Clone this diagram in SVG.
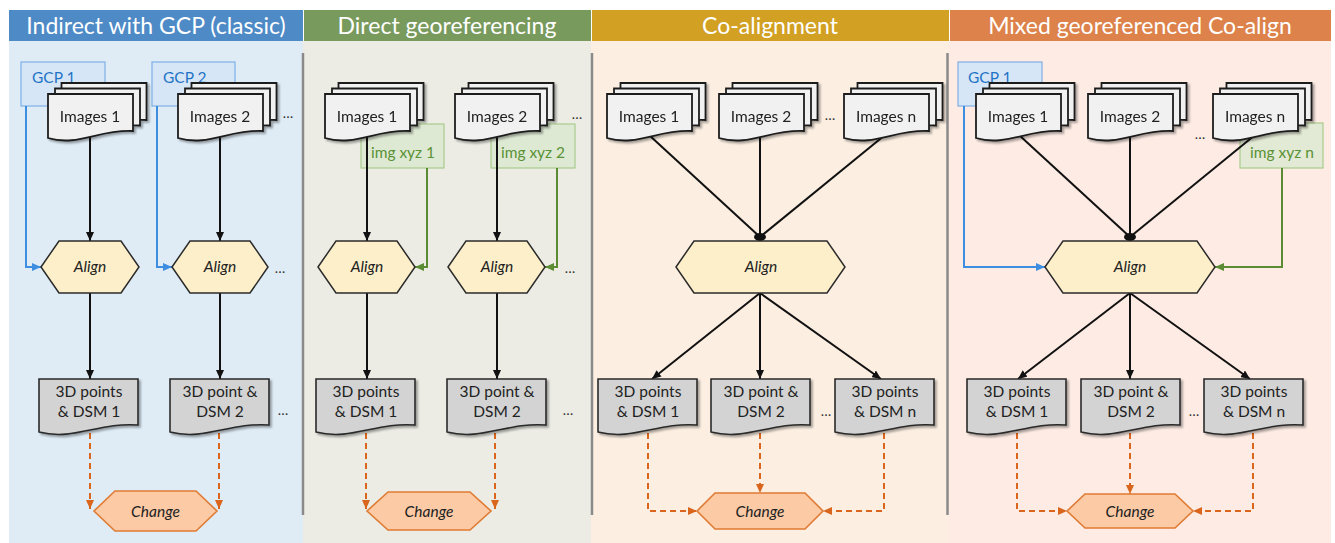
<svg xmlns="http://www.w3.org/2000/svg" width="1335" height="543" viewBox="0 0 1335 543">
<style>
  .hdr{font-family:Lato,"Open Sans",sans-serif;font-size:23px;fill:#ffffff;text-anchor:middle}
  .lbl{font-family:Lato,"Open Sans",sans-serif;font-size:15.5px;fill:#222;text-anchor:middle}
  .it{font-family:Lato,"Open Sans",sans-serif;font-size:15.5px;fill:#222;text-anchor:middle;font-style:italic}
  .gcpt{font-family:Lato,"Open Sans",sans-serif;font-size:15.5px;fill:#1f74c6}
  .xyzt{font-family:Lato,"Open Sans",sans-serif;font-size:15.5px;fill:#5a9236;text-anchor:middle}
  .dots{font-family:Lato,"Open Sans",sans-serif;font-size:14px;fill:#333;text-anchor:middle}
  .page{fill:#f1f1f1;stroke:#1e1e1e;stroke-width:1.8}
  .pts{fill:#d3d3d3;stroke:#2a2a2a;stroke-width:1.6}
  .align{fill:#fdefc9;stroke:#2b2b2b;stroke-width:1.5}
  .chg{fill:#fccaa5;stroke:#e07b33;stroke-width:1.6}
  .gcp{fill:#d7e6f7;stroke:#7eb0e6;stroke-width:1.2}
  .xyz{fill:#dbe8cf;fill-opacity:0.8;stroke:#a9cc8d;stroke-width:1.2}
  .blk{fill:none;stroke:#111;stroke-width:2}
  .blu{fill:none;stroke:#3d8ee0;stroke-width:2}
  .grn{fill:none;stroke:#5b8c34;stroke-width:2}
  .org{fill:none;stroke:#d9661c;stroke-width:2;stroke-dasharray:6 4}
  .sep{stroke:#8a8a8a;stroke-width:2.5}
</style>
<defs>
  <marker id="aBlk" markerUnits="userSpaceOnUse" markerWidth="9" markerHeight="8" refX="9" refY="4" orient="auto"><path d="M0,0 L9,4 L0,8 Z" fill="#111"/></marker>
  <marker id="aBlu" markerUnits="userSpaceOnUse" markerWidth="9" markerHeight="8" refX="9" refY="4" orient="auto"><path d="M0,0 L9,4 L0,8 Z" fill="#3d8ee0"/></marker>
  <marker id="aGrn" markerUnits="userSpaceOnUse" markerWidth="9" markerHeight="8" refX="9" refY="4" orient="auto"><path d="M0,0 L9,4 L0,8 Z" fill="#5b8c34"/></marker>
  <marker id="aOrg" markerUnits="userSpaceOnUse" markerWidth="9" markerHeight="8" refX="9" refY="4" orient="auto"><path d="M0,0 L9,4 L0,8 Z" fill="#d9661c"/></marker>
  <filter id="sh" x="-10%" y="-10%" width="130%" height="140%"><feDropShadow dx="2" dy="2" stdDeviation="1.3" flood-color="#000" flood-opacity="0.35"/></filter>
  <path id="doc" d="M0,0 H85 V37 C51,35 30,53 0,44 Z"/>
  <path id="pt" d="M0,0 H99 V46 C60,43 35,62 0,53 Z"/>
  <g id="stack">
    <use href="#doc" x="13.5" y="-11" class="page"/>
    <use href="#doc" x="7" y="-5.5" class="page"/>
    <use href="#doc" class="page"/>
  </g>
</defs>

<!-- panel backgrounds -->
<g id="panels">
  <rect x="0" y="0" width="1335" height="543" fill="#ffffff"/>
  <rect x="9" y="41" width="294" height="502" fill="#dfecf6"/>
  <rect x="303" y="41" width="288" height="502" fill="#ecece5"/>
  <rect x="591" y="41" width="358" height="502" fill="#fcefe2"/>
  <rect x="949" y="41" width="382" height="502" fill="#fdebe4"/>
  <rect x="9" y="10" width="294" height="31" fill="#4d8ac6"/>
  <rect x="304" y="10" width="287" height="31" fill="#789a5d"/>
  <rect x="592" y="10" width="357" height="31" fill="#d2a022"/>
  <rect x="950" y="10" width="381" height="31" fill="#dc824a"/>
  <text class="hdr" x="156" y="34">Indirect with GCP (classic)</text>
  <text class="hdr" x="447" y="34">Direct georeferencing</text>
  <text class="hdr" x="770" y="34">Co-alignment</text>
  <text class="hdr" x="1140" y="34">Mixed georeferenced Co-align</text>
  <line class="sep" x1="303" y1="53" x2="303" y2="515"/>
  <line class="sep" x1="592" y1="53" x2="592" y2="515"/>
  <line class="sep" x1="947.5" y1="53" x2="947.5" y2="515"/>
</g>

<!-- GCP / img xyz label boxes -->
<g id="gcp1a"><rect class="gcp" x="21" y="62" width="84" height="44"/><text class="gcpt" x="32" y="83">GCP 1</text></g>
<g id="gcp2a"><rect class="gcp" x="152" y="62" width="83" height="44"/><text class="gcpt" x="163" y="83">GCP 2</text></g>
<g id="gcp1d"><rect class="gcp" x="958" y="62" width="84" height="44"/><text class="gcpt" x="968" y="83">GCP 1</text></g>
<g id="xyz1b"><rect class="xyz" x="361" y="124" width="83" height="44"/><text class="xyzt" x="403" y="158">img xyz 1</text></g>
<g id="xyz2b"><rect class="xyz" x="491" y="124" width="84" height="44"/><text class="xyzt" x="533" y="158">img xyz 2</text></g>
<g id="xyznd"><rect class="xyz" x="1240" y="123" width="83" height="45"/><text class="xyzt" x="1282" y="158">img xyz n</text></g>

<!-- connectors -->
<g id="connectors">
  <!-- panel 1 -->
  <path class="blk" d="M90,135 V241" marker-end="url(#aBlk)"/>
  <path class="blk" d="M220,135 V241" marker-end="url(#aBlk)"/>
  <path class="blu" d="M26,106 V267 H41" marker-end="url(#aBlu)"/>
  <path class="blu" d="M157,106 V267 H172" marker-end="url(#aBlu)"/>
  <path class="blk" d="M90,293 V379" marker-end="url(#aBlk)"/>
  <path class="blk" d="M220,293 V379" marker-end="url(#aBlk)"/>
  <path class="org" d="M90,433 V509" marker-end="url(#aOrg)"/>
  <path class="org" d="M219,433 V509" marker-end="url(#aOrg)"/>
  <!-- panel 2 -->
  <path class="blk" d="M367,135 V241" marker-end="url(#aBlk)"/>
  <path class="blk" d="M497,135 V241" marker-end="url(#aBlk)"/>
  <path class="grn" d="M427,168 V267 H415" marker-end="url(#aGrn)"/>
  <path class="grn" d="M557,168 V267 H545" marker-end="url(#aGrn)"/>
  <path class="blk" d="M367,293 V379" marker-end="url(#aBlk)"/>
  <path class="blk" d="M497,293 V379" marker-end="url(#aBlk)"/>
  <path class="org" d="M366,433 V509" marker-end="url(#aOrg)"/>
  <path class="org" d="M495,433 V509" marker-end="url(#aOrg)"/>
  <!-- panel 3 -->
  <path class="blk" d="M649,135 L760,237"/>
  <path class="blk" d="M760,135 V237"/>
  <path class="blk" d="M885,135 L760,237"/>
  <ellipse cx="760" cy="237" rx="6" ry="4" fill="#111"/>
  <path class="blk" d="M760,293 L652,379" marker-end="url(#aBlk)"/>
  <path class="blk" d="M760,293 V379" marker-end="url(#aBlk)"/>
  <path class="blk" d="M760,293 L881,379" marker-end="url(#aBlk)"/>
  <path class="org" d="M648,433 V511 H697" marker-end="url(#aOrg)"/>
  <path class="org" d="M760,433 V493" marker-end="url(#aOrg)"/>
  <path class="org" d="M884,433 V511 H823" marker-end="url(#aOrg)"/>
  <!-- panel 4 -->
  <path class="blk" d="M1019,135 L1130,237"/>
  <path class="blk" d="M1130,135 V237"/>
  <path class="blk" d="M1255,135 L1130,237"/>
  <ellipse cx="1130" cy="237" rx="6" ry="4" fill="#111"/>
  <path class="blu" d="M964,106 V267 H1045" marker-end="url(#aBlu)"/>
  <path class="grn" d="M1282,168 V267 H1215" marker-end="url(#aGrn)"/>
  <path class="blk" d="M1130,293 L1018,379" marker-end="url(#aBlk)"/>
  <path class="blk" d="M1130,293 V379" marker-end="url(#aBlk)"/>
  <path class="blk" d="M1130,293 L1250,379" marker-end="url(#aBlk)"/>
  <path class="org" d="M1017,433 V511 H1067" marker-end="url(#aOrg)"/>
  <path class="org" d="M1130,433 V494" marker-end="url(#aOrg)"/>
  <path class="org" d="M1253,433 V511 H1193" marker-end="url(#aOrg)"/>
</g>

<!-- image stacks -->
<g id="img1a" filter="url(#sh)"><use href="#stack" x="48" y="94"/><text class="lbl" x="90" y="122">Images 1</text></g>
<g id="img2a" filter="url(#sh)"><use href="#stack" x="178" y="94"/><text class="lbl" x="220" y="122">Images 2</text></g>
<g id="img1b" filter="url(#sh)"><use href="#stack" x="325" y="94"/><text class="lbl" x="367" y="122">Images 1</text></g>
<g id="img2b" filter="url(#sh)"><use href="#stack" x="455" y="94"/><text class="lbl" x="497" y="122">Images 2</text></g>
<g id="img1c" filter="url(#sh)"><use href="#stack" x="607" y="94"/><text class="lbl" x="649" y="122">Images 1</text></g>
<g id="img2c" filter="url(#sh)"><use href="#stack" x="719" y="94"/><text class="lbl" x="761" y="122">Images 2</text></g>
<g id="imgnc" filter="url(#sh)"><use href="#stack" x="844" y="94"/><text class="lbl" x="886" y="122">Images n</text></g>
<g id="img1d" filter="url(#sh)"><use href="#stack" x="976" y="94"/><text class="lbl" x="1018" y="122">Images 1</text></g>
<g id="img2d" filter="url(#sh)"><use href="#stack" x="1088" y="94"/><text class="lbl" x="1130" y="122">Images 2</text></g>
<g id="imgnd" filter="url(#sh)"><use href="#stack" x="1213" y="94"/><text class="lbl" x="1255" y="122">Images n</text></g>

<!-- align hexagons -->
<g id="align1a"><polygon class="align" points="41,267 59,241 121,241 139,267 121,293 59,293"/><text class="it" x="90" y="272">Align</text></g>
<g id="align2a"><polygon class="align" points="172,267 190,241 250,241 268,267 250,293 190,293"/><text class="it" x="220" y="272">Align</text></g>
<g id="align1b"><polygon class="align" points="318,267 336,241 397,241 415,267 397,293 336,293"/><text class="it" x="367" y="272">Align</text></g>
<g id="align2b"><polygon class="align" points="448,267 466,241 527,241 545,267 527,293 466,293"/><text class="it" x="497" y="272">Align</text></g>
<g id="alignc"><polygon class="align" points="676,267 694,241 827,241 845,267 827,293 694,293"/><text class="it" x="761" y="272">Align</text></g>
<g id="alignd"><polygon class="align" points="1045,267 1063,241 1197,241 1215,267 1197,293 1063,293"/><text class="it" x="1130" y="272">Align</text></g>

<!-- 3D points & DSM -->
<g id="dsm1a"><use href="#pt" x="39" y="379" class="pts" filter="url(#sh)"/><text class="lbl" x="89" y="397">3D points</text><text class="lbl" x="89" y="417">&amp; DSM 1</text></g>
<g id="dsm2a"><use href="#pt" x="170" y="379" class="pts" filter="url(#sh)"/><text class="lbl" x="220" y="397">3D point &amp;</text><text class="lbl" x="220" y="417">DSM 2</text></g>
<g id="dsm1b"><use href="#pt" x="316" y="379" class="pts" filter="url(#sh)"/><text class="lbl" x="366" y="397">3D points</text><text class="lbl" x="366" y="417">&amp; DSM 1</text></g>
<g id="dsm2b"><use href="#pt" x="447" y="379" class="pts" filter="url(#sh)"/><text class="lbl" x="497" y="397">3D point &amp;</text><text class="lbl" x="497" y="417">DSM 2</text></g>
<g id="dsm1c"><use href="#pt" x="598" y="379" class="pts" filter="url(#sh)"/><text class="lbl" x="648" y="397">3D points</text><text class="lbl" x="648" y="417">&amp; DSM 1</text></g>
<g id="dsm2c"><use href="#pt" x="711" y="379" class="pts" filter="url(#sh)"/><text class="lbl" x="761" y="397">3D point &amp;</text><text class="lbl" x="761" y="417">DSM 2</text></g>
<g id="dsmnc"><use href="#pt" x="835" y="379" class="pts" filter="url(#sh)"/><text class="lbl" x="885" y="397">3D points</text><text class="lbl" x="885" y="417">&amp; DSM n</text></g>
<g id="dsm1d"><use href="#pt" x="967" y="379" class="pts" filter="url(#sh)"/><text class="lbl" x="1017" y="397">3D points</text><text class="lbl" x="1017" y="417">&amp; DSM 1</text></g>
<g id="dsm2d"><use href="#pt" x="1081" y="379" class="pts" filter="url(#sh)"/><text class="lbl" x="1131" y="397">3D point &amp;</text><text class="lbl" x="1131" y="417">DSM 2</text></g>
<g id="dsmnd"><use href="#pt" x="1204" y="379" class="pts" filter="url(#sh)"/><text class="lbl" x="1254" y="397">3D points</text><text class="lbl" x="1254" y="417">&amp; DSM n</text></g>

<!-- change hexagons -->
<g id="chga"><polygon class="chg" points="94,511 115,491 196,491 217,511 196,531 115,531"/><text class="it" x="155.5" y="517">Change</text></g>
<g id="chgb"><polygon class="chg" points="367,511 388,492 470,492 491,511 470,530 388,530"/><text class="it" x="429" y="517">Change</text></g>
<g id="chgc"><polygon class="chg" points="697,511 715,493 805,493 823,511 805,529 715,529"/><text class="it" x="760" y="517">Change</text></g>
<g id="chgd"><polygon class="chg" points="1067,511 1085,494 1175,494 1193,511 1175,528 1085,528"/><text class="it" x="1130" y="517">Change</text></g>

<!-- ellipses -->
<g id="ellipses">
  <text class="dots" x="288" y="118">…</text>
  <text class="dots" x="280" y="273">…</text>
  <text class="dots" x="283" y="415">…</text>
  <text class="dots" x="577" y="119">…</text>
  <text class="dots" x="570" y="273">…</text>
  <text class="dots" x="568" y="415">…</text>
  <text class="dots" x="830" y="120">…</text>
  <text class="dots" x="826" y="416">…</text>
  <text class="dots" x="1200" y="139">…</text>
  <text class="dots" x="1194" y="416">…</text>
</g>
</svg>
